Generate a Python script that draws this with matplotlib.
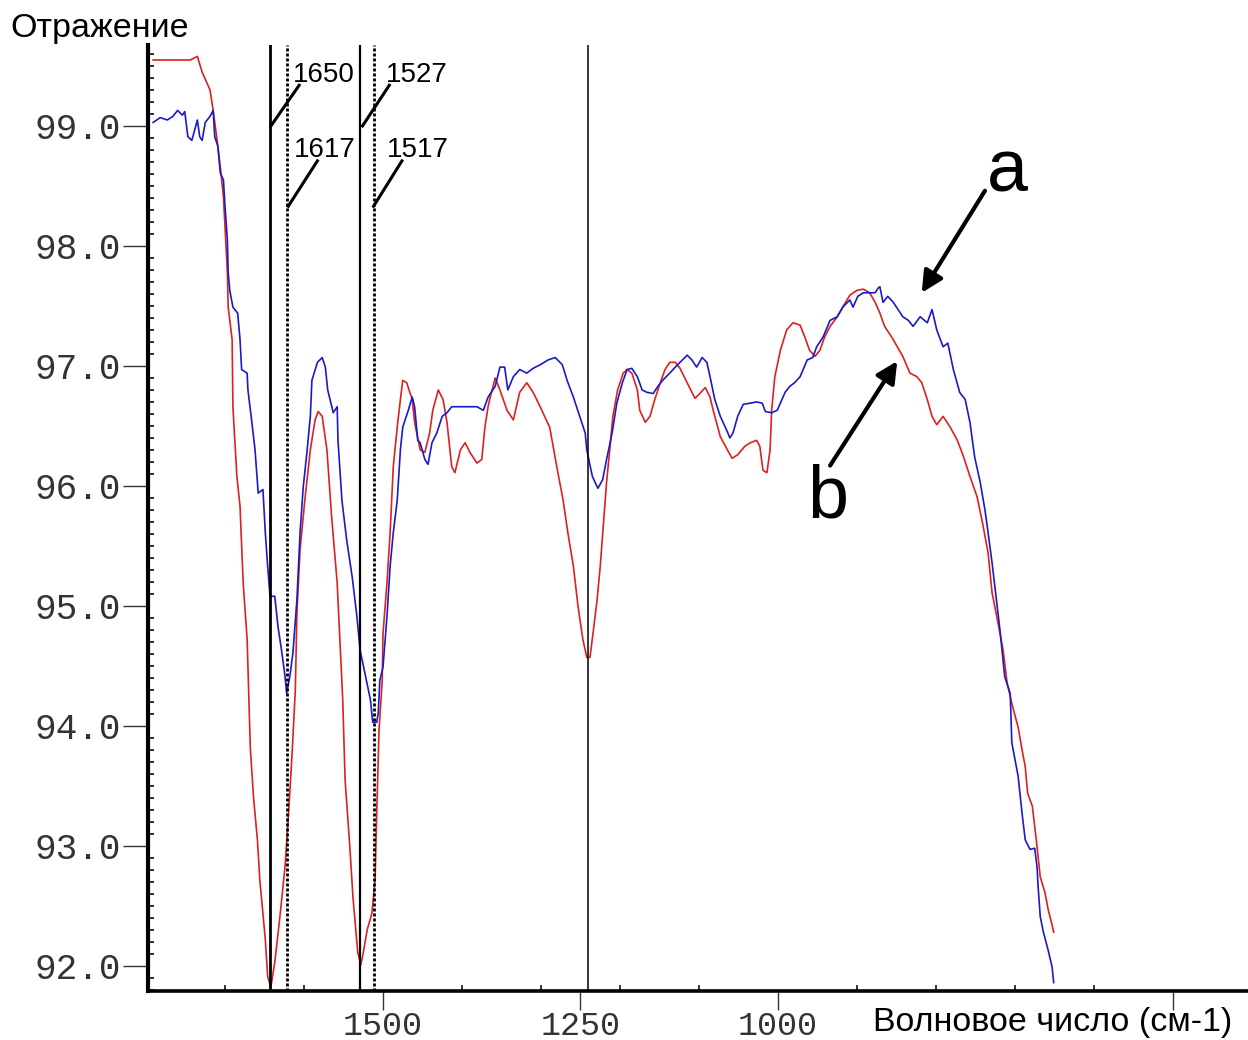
import matplotlib
matplotlib.use("Agg")
import matplotlib.pyplot as plt
from matplotlib.ticker import FixedLocator, FormatStrFormatter

# === DATOS ===
# curva b (roja)
wn_b = [1791, 1770, 1744, 1735, 1729, 1719, 1715, 1710, 1706, 1702, 1700, 1697, 1696, 1691,
        1690, 1685, 1681, 1677, 1672, 1668, 1664, 1659, 1656, 1649, 1646, 1642, 1637, 1630,
        1624, 1620, 1615, 1611, 1609, 1605, 1599, 1592, 1586, 1582, 1577, 1571, 1565, 1558,
        1554, 1551, 1548, 1542, 1538, 1532, 1528, 1525, 1520, 1514, 1510, 1508, 1505, 1501,
        1500, 1495, 1491, 1487, 1482, 1478, 1475, 1470, 1463, 1460, 1453, 1447, 1441, 1437,
        1430, 1424, 1419, 1413, 1409, 1402, 1396, 1390, 1381, 1375, 1371, 1367, 1365, 1358,
        1352, 1343, 1335, 1327, 1318, 1310, 1301, 1292, 1289, 1280, 1272, 1266, 1259, 1253,
        1247, 1242, 1238, 1234, 1229, 1225, 1222, 1217, 1213, 1209, 1203, 1196, 1191, 1185,
        1178, 1175, 1168, 1162, 1156, 1149, 1143, 1137, 1130, 1124, 1115, 1105, 1099, 1092,
        1086, 1082, 1073, 1064, 1058, 1051, 1042, 1035, 1027, 1023, 1019, 1014, 1010, 1008,
        1004, 997, 989, 981, 972, 966, 960, 953, 947, 941, 934, 925, 918, 909, 900, 892, 884,
        877, 871, 865, 856, 849, 842, 833, 824, 818, 811, 805, 799, 791, 782, 773, 766, 757,
        748, 741, 734, 729, 723, 715, 710, 703, 696, 691, 687, 684, 678, 675, 672, 668, 662,
        658, 653, 651]
refl_b = [99.55, 99.55, 99.55, 99.58, 99.45, 99.30, 99.13, 98.88, 98.66, 98.41, 98.16, 97.78,
          97.49, 97.22, 96.66, 96.08, 95.83, 95.19, 94.72, 93.82, 93.41, 93.05, 92.72, 92.22,
          91.91, 91.82, 92.03, 92.44, 92.83, 93.22, 93.78, 94.30, 94.94, 95.47, 95.88, 96.30,
          96.55, 96.62, 96.58, 96.30, 95.74, 95.19, 94.63, 94.22, 93.55, 92.99, 92.57, 92.11,
          92.01, 92.11, 92.30, 92.44, 92.72, 93.27, 93.97, 94.38, 94.77, 95.19, 95.61, 96.16,
          96.49, 96.72, 96.88, 96.86, 96.72, 96.53, 96.30, 96.28, 96.44, 96.63, 96.80, 96.72,
          96.53, 96.16, 96.11, 96.30, 96.36, 96.28, 96.19, 96.22, 96.49, 96.66, 96.72, 96.90,
          96.80, 96.63, 96.55, 96.78, 96.86, 96.78, 96.66, 96.53, 96.49, 96.16, 95.88, 95.61,
          95.33, 94.99, 94.72, 94.57, 94.57, 94.78, 95.05, 95.33, 95.59, 96.03, 96.30, 96.58,
          96.80, 96.94, 96.97, 96.94, 96.80, 96.63, 96.53, 96.58, 96.72, 96.86, 96.97, 97.03,
          97.03, 96.98, 96.86, 96.73, 96.77, 96.82, 96.74, 96.63, 96.41, 96.30, 96.23, 96.26,
          96.33, 96.36, 96.38, 96.33, 96.13, 96.11, 96.30, 96.63, 96.91, 97.13, 97.30, 97.36,
          97.34, 97.24, 97.13, 97.08, 97.13, 97.24, 97.33, 97.41, 97.49, 97.59, 97.63, 97.64,
          97.61, 97.53, 97.44, 97.33, 97.24, 97.16, 97.08, 96.94, 96.91, 96.86, 96.72, 96.58,
          96.51, 96.58, 96.49, 96.38, 96.26, 96.08, 95.91, 95.69, 95.44, 95.11, 94.91, 94.63,
          94.36, 94.16, 93.99, 93.80, 93.66, 93.44, 93.33, 93.16, 92.99, 92.74, 92.61, 92.47,
          92.34, 92.28]

# curva a (azul)
wn_a = [1791, 1782, 1773, 1766, 1760, 1754, 1751, 1747, 1742, 1735, 1732, 1729, 1725, 1719,
        1715, 1713, 1709, 1706, 1702, 1700, 1697, 1696, 1694, 1690, 1684, 1681, 1679, 1672,
        1671, 1666, 1662, 1658, 1652, 1649, 1646, 1643, 1637, 1633, 1628, 1624, 1622, 1618,
        1614, 1609, 1605, 1601, 1596, 1592, 1590, 1583, 1577, 1573, 1570, 1563, 1558, 1557,
        1552, 1546, 1539, 1533, 1529, 1523, 1516, 1513, 1508, 1506, 1504, 1500, 1495, 1491,
        1487, 1482, 1478, 1475, 1468, 1463, 1460, 1456, 1453, 1447, 1443, 1438, 1432, 1425,
        1419, 1413, 1402, 1390, 1381, 1373, 1367, 1358, 1352, 1346, 1342, 1335, 1327, 1318,
        1310, 1301, 1291, 1282, 1273, 1267, 1259, 1251, 1244, 1242, 1235, 1228, 1222, 1217,
        1210, 1204, 1197, 1191, 1185, 1178, 1172, 1166, 1158, 1152, 1146, 1137, 1130, 1124,
        1115, 1109, 1103, 1096, 1090, 1086, 1080, 1073, 1064, 1061, 1057, 1051, 1044, 1035,
        1027, 1020, 1016, 1008, 1001, 997, 991, 985, 979, 972, 963, 956, 951, 943, 934, 925,
        918, 909, 905, 899, 892, 884, 877, 873, 871, 867, 861, 854, 848, 842, 835, 829, 820,
        811, 805, 799, 791, 785, 778, 770, 763, 757, 751, 744, 738, 734, 729, 719, 713, 706,
        704, 700, 696, 691, 687, 681, 675, 672, 671, 668, 664, 658, 653, 651]
refl_a = [99.03, 99.07, 99.05, 99.08, 99.13, 99.09, 99.12, 98.91, 98.88, 99.05, 98.91, 98.88,
          99.03, 99.08, 99.13, 98.91, 98.83, 98.61, 98.55, 98.33, 98.05, 97.78, 97.63, 97.49,
          97.44, 97.22, 96.97, 96.94, 96.80, 96.53, 96.30, 95.94, 95.97, 95.61, 95.33, 95.08,
          95.08, 94.83, 94.61, 94.41, 94.27, 94.41, 94.61, 95.05, 95.61, 95.99, 96.30, 96.58,
          96.88, 97.03, 97.07, 96.99, 96.80, 96.61, 96.66, 96.38, 95.88, 95.55, 95.24, 94.91,
          94.63, 94.44, 94.22, 94.03, 94.03, 94.11, 94.38, 94.49, 94.91, 95.33, 95.61, 95.88,
          96.30, 96.49, 96.63, 96.74, 96.66, 96.38, 96.36, 96.22, 96.18, 96.36, 96.44, 96.58,
          96.61, 96.66, 96.66, 96.66, 96.66, 96.63, 96.74, 96.83, 96.99, 96.99, 96.80, 96.91,
          96.97, 96.94, 96.98, 97.01, 97.05, 97.07, 97.01, 96.88, 96.74, 96.58, 96.44, 96.30,
          96.08, 95.98, 96.05, 96.22, 96.44, 96.69, 96.86, 96.97, 96.98, 96.91, 96.80, 96.78,
          96.77, 96.83, 96.88, 96.94, 96.99, 97.03, 97.09, 97.05, 96.99, 97.07, 97.03, 96.91,
          96.72, 96.58, 96.45, 96.40, 96.44, 96.58, 96.68, 96.69, 96.70, 96.69, 96.62, 96.61,
          96.63, 96.69, 96.78, 96.83, 96.86, 96.91, 97.05, 97.07, 97.16, 97.24, 97.38, 97.41,
          97.49, 97.55, 97.49, 97.58, 97.61, 97.61, 97.61, 97.65, 97.66, 97.53, 97.58, 97.53,
          97.47, 97.41, 97.38, 97.33, 97.41, 97.36, 97.47, 97.30, 97.16, 97.19, 96.97, 96.78,
          96.72, 96.53, 96.24, 96.03, 95.80, 95.61, 95.36, 94.80, 94.41, 94.27, 93.86, 93.72,
          93.58, 93.27, 93.05, 92.97, 92.98, 92.82, 92.69, 92.41, 92.28, 92.13, 91.99, 91.86]

# líneas verticales marcadas (posición en el eje) y sus etiquetas
marcas_pos = [1643, 1621, 1529, 1512]
marcas_txt = ['1650', '1617', '1527', '1517']
linea_1250 = 1241

yticks = [92, 93, 94, 95, 96, 97, 98, 99]
xticks = [1500, 1250, 1000, 500]
xticklabels = ['1500', '1250', '1000', '']
xminor = [1700, 1600, 1400, 1300, 1200, 1100, 900, 800, 700, 600]

# === FIGURA ===
fig = plt.figure(figsize=(12.48, 10.4), dpi=100)
ax = fig.add_axes([148 / 1248, 49 / 1040, 1100 / 1248, 946 / 1040])

ax.plot(wn_b, refl_b, color='#dd2020', lw=1.2, zorder=3)
ax.plot(wn_a, refl_a, color='#1a1ac8', lw=1.2, zorder=4)

ax.set_xlim(1797.5, 405)
ax.set_ylim(91.79, 99.675)

# líneas verticales
estilos = ['-', (0, (1.1, 0.7)), '-', (0, (1.1, 0.7))]
anchos = [2.0, 2.0, 1.6, 2.0]
for pos, ls, w in zip(marcas_pos, estilos, anchos):
    ax.axvline(pos, color='black', lw=w, ls=ls, zorder=5)
ax.axvline(linea_1250, color='black', lw=1.1, zorder=5)

# rótulos de las líneas con sus trazos
rotulos = {
    '1650': ((1643, 98.99), (1605, 99.35), (1614, 99.37)),
    '1617': ((1621, 98.32), (1582, 98.72), (1613, 98.74)),
    '1527': ((1527, 98.99), (1491, 99.35), (1497, 99.37)),
    '1517': ((1513, 98.32), (1475, 98.72), (1495, 98.74)),
}
for txt in marcas_txt:
    p0, p1, pt = rotulos[txt]
    ax.plot([p0[0], p1[0]], [p0[1], p1[1]], color='black', lw=2.2, zorder=6,
            solid_capstyle='butt')
    ax.text(pt[0], pt[1], txt, fontsize=20, family='Liberation Sans',
            ha='left', va='baseline', zorder=7)

# flechas a / b
flecha = dict(arrowstyle='-|>', color='black', lw=3, mutation_scale=32,
              shrinkA=0, shrinkB=0)
ax.annotate('', xy=(818, 97.61), xytext=(738, 98.46), arrowprops=flecha)
ax.annotate('', xy=(849, 97.04), xytext=(934, 96.17), arrowprops=flecha)
ax.text(709, 98.45, 'a', fontsize=53, family='Liberation Sans', ha='center', va='baseline')
ax.text(937, 95.74, 'b', fontsize=53, family='Liberation Sans', ha='center', va='baseline')

# ejes
for s in ['top', 'right']:
    ax.spines[s].set_visible(False)
ax.spines['left'].set_linewidth(3.0)
ax.spines['bottom'].set_linewidth(2.6)

ax.yaxis.set_major_locator(FixedLocator(yticks))
ax.yaxis.set_major_formatter(FormatStrFormatter('%.1f'))
ax.yaxis.set_minor_locator(FixedLocator([v / 10 for v in range(918, 997)]))
ax.tick_params(axis='y', which='major', direction='out', length=18, width=1.0,
               color='#333333', pad=1.5, labelsize=26, labelcolor='#333333')
ax.tick_params(axis='y', which='minor', direction='in', length=4, width=1.3, color='#222222')

ax.set_xticks(xticks)
ax.set_xticklabels(xticklabels)
ax.xaxis.set_minor_locator(FixedLocator(xminor))
ax.tick_params(axis='x', which='major', direction='out', length=14, width=1.0,
               color='#333333', pad=0.5, labelsize=24, labelcolor='#333333')
ax.tick_params(axis='x', which='minor', direction='in', length=4, width=1.3, color='#222222')
for lab in ax.get_xticklabels() + ax.get_yticklabels():
    lab.set_family('Liberation Mono')

fig.text(10 / 1248, 1 - 28 / 1040, 'Отражение', fontsize=24.5, family='Liberation Sans',
         ha='left', va='center')
fig.text(873 / 1248, 1 - 1022 / 1040, 'Волновое число (см-1)', fontsize=24.5,
         family='Liberation Sans', ha='left', va='center')

fig.savefig('out.png', dpi=100)
